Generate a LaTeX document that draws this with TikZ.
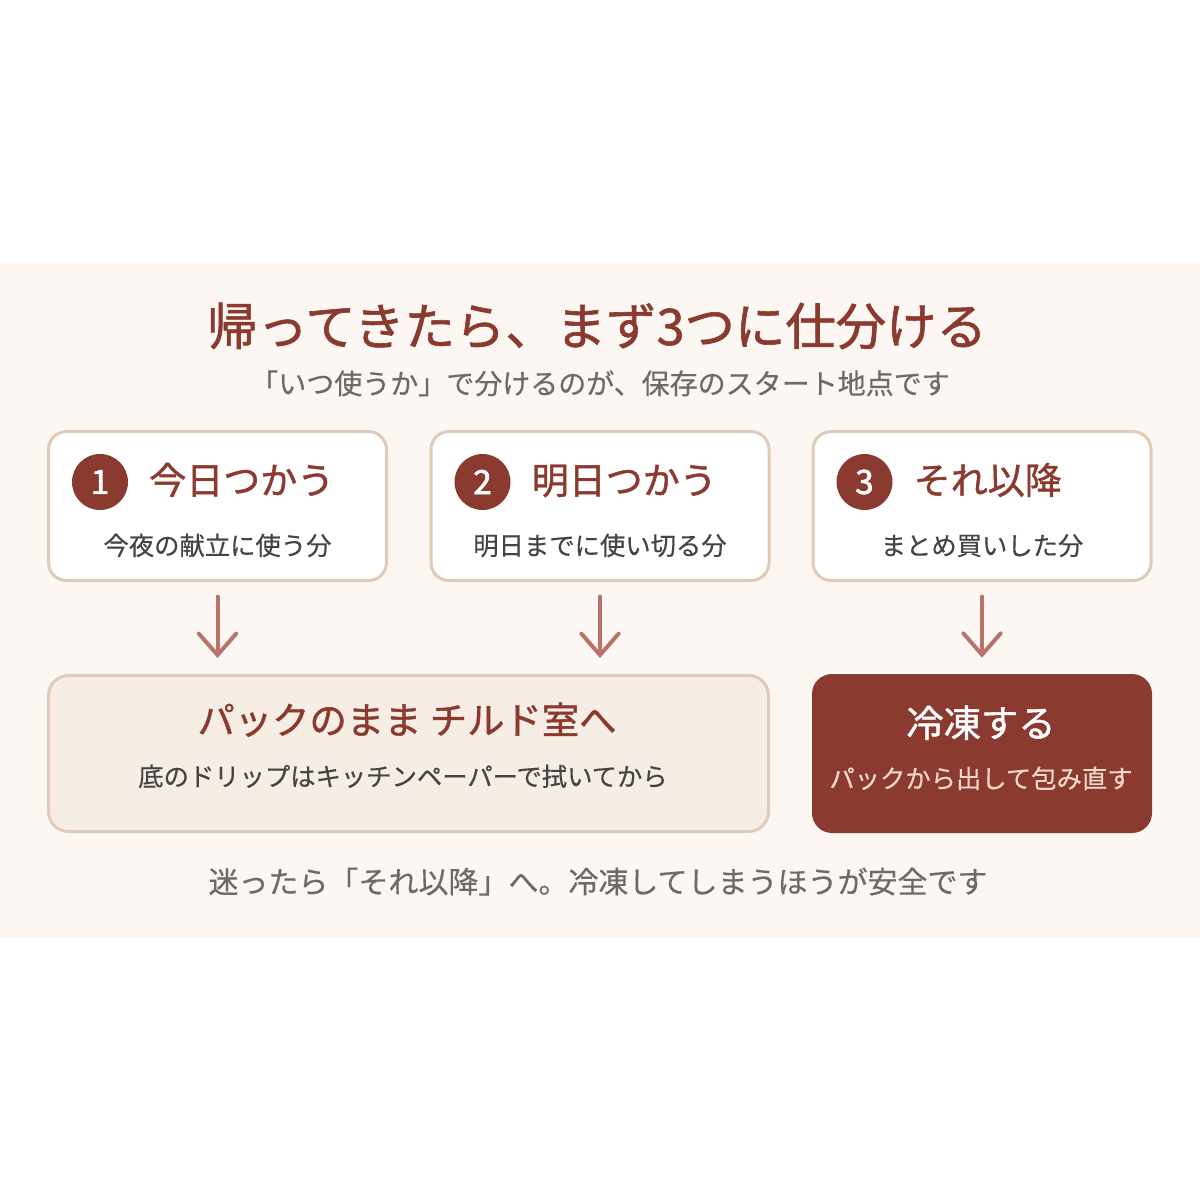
\documentclass[tikz,border=0pt]{standalone}
\usepackage{fontspec}
\setmainfont{Noto Sans CJK JP}
\newfontfamily\headfont{Noto Sans CJK JP}[FakeBold=1.2]
\newfontfamily\bodyfont{Noto Sans CJK JP}[FakeBold=0.4]
\newfontfamily\numfont{Noto Sans CJK JP}[FakeBold=2]
\usetikzlibrary{arrows.meta}

\definecolor{brick}{HTML}{8B3A2F}
\definecolor{cardline}{HTML}{E0CBB9}
\definecolor{band}{HTML}{FCF7F3}
\definecolor{chillfill}{HTML}{F6EDE5}
\definecolor{arrowcol}{HTML}{B8736A}
\definecolor{subgray}{HTML}{6B6B6B}
\definecolor{bodytext}{HTML}{444444}
\definecolor{pinktext}{HTML}{F3D6CC}

\tikzset{
  card/.style={draw=cardline, line width=2.25pt, rounded corners=13.5pt, fill=white,
    minimum width=253.5pt, minimum height=111.75pt, inner sep=0pt},
  numdot/.style={circle, fill=brick, minimum size=42pt, inner sep=0pt, text=white,
    font=\numfont\fontsize{25pt}{26pt}\selectfont},
  cardhead/.style={anchor=base west, inner sep=0pt, text=brick,
    font=\headfont\fontsize{27.75pt}{30pt}\selectfont},
  cardsub/.style={anchor=base, inner sep=0pt, text=bodytext,
    font=\bodyfont\fontsize{19pt}{21pt}\selectfont},
  flow/.style={draw=arrowcol, line width=3pt, line cap=round,
    -{Straight Barb[length=16pt, width=28pt, line cap=round]}}
}

\begin{document}
\begin{tikzpicture}[x=0.75pt, y=-0.75pt]
  \useasboundingbox (0,0) rectangle (1200,1200);

  % Background band
  \fill[band] (0,262) rectangle (1200,937);

  % Heading
  \node[anchor=base, inner sep=0pt, text=brick, font=\headfont\fontsize{37.8pt}{40pt}\selectfont]
    (title) at (597,345) {帰ってきたら、まず3つに仕分ける};
  \node[anchor=base, inner sep=0pt, text=subgray, font=\bodyfont\fontsize{21pt}{24pt}\selectfont]
    (subtitle) at (600,394) {「いつ使うか」で分けるのが、保存のスタート地点です};

  % Three cards
  \foreach \i/\x/\head/\sub in {1/217.5/今日つかう/今夜の献立に使う分,
                                2/600/明日つかう/明日までに使い切る分,
                                3/982/それ以降/まとめ買いした分}
  {
    \node[card] (b\i) at (\x,506) {};
    \node[numdot] (n\i) at (\x-117.5,482) {\i};
    \node[cardhead] (h\i) at (\x-68.5,494) {\head};
    \node[cardsub] (s\i) at (\x,555) {\sub};
  }

  % Destinations
  \node[card, fill=chillfill, minimum width=540pt, minimum height=117pt, rounded corners=15pt]
    (chill) at (408.5,753.5) {};
  \node[anchor=base, inner sep=0pt, text=brick, font=\headfont\fontsize{28pt}{30pt}\selectfont]
    (chillhead) at (407,734) {パックのまま チルド室へ};
  \node[cardsub] (chillsub) at (403,786) {底のドリップはキッチンペーパーで拭いてから};

  \node[fill=brick, minimum width=255pt, minimum height=119.25pt, rounded corners=15pt, inner sep=0pt]
    (freeze) at (982,753.5) {};
  \node[anchor=base, inner sep=0pt, text=white, font=\headfont\fontsize{28pt}{30pt}\selectfont]
    (freezehead) at (981,737) {冷凍する};
  \node[cardsub, text=pinktext] (freezesub) at (981,788) {パックから出して包み直す};

  % Arrows
  \draw[flow, shorten <=11pt, shorten >=12pt] (b1.south) -- (b1.south |- chill.north);
  \draw[flow, shorten <=11pt, shorten >=12pt] (b2.south) -- (b2.south |- chill.north);
  \draw[flow, shorten <=11pt, shorten >=12pt] (b3.south) -- (freeze.north);

  % Footer
  \node[anchor=base, inner sep=0pt, text=subgray, font=\bodyfont\fontsize{22.5pt}{25pt}\selectfont]
    (footer) at (598,893) {迷ったら「それ以降」へ。冷凍してしまうほうが安全です};
\end{tikzpicture}
\end{document}
